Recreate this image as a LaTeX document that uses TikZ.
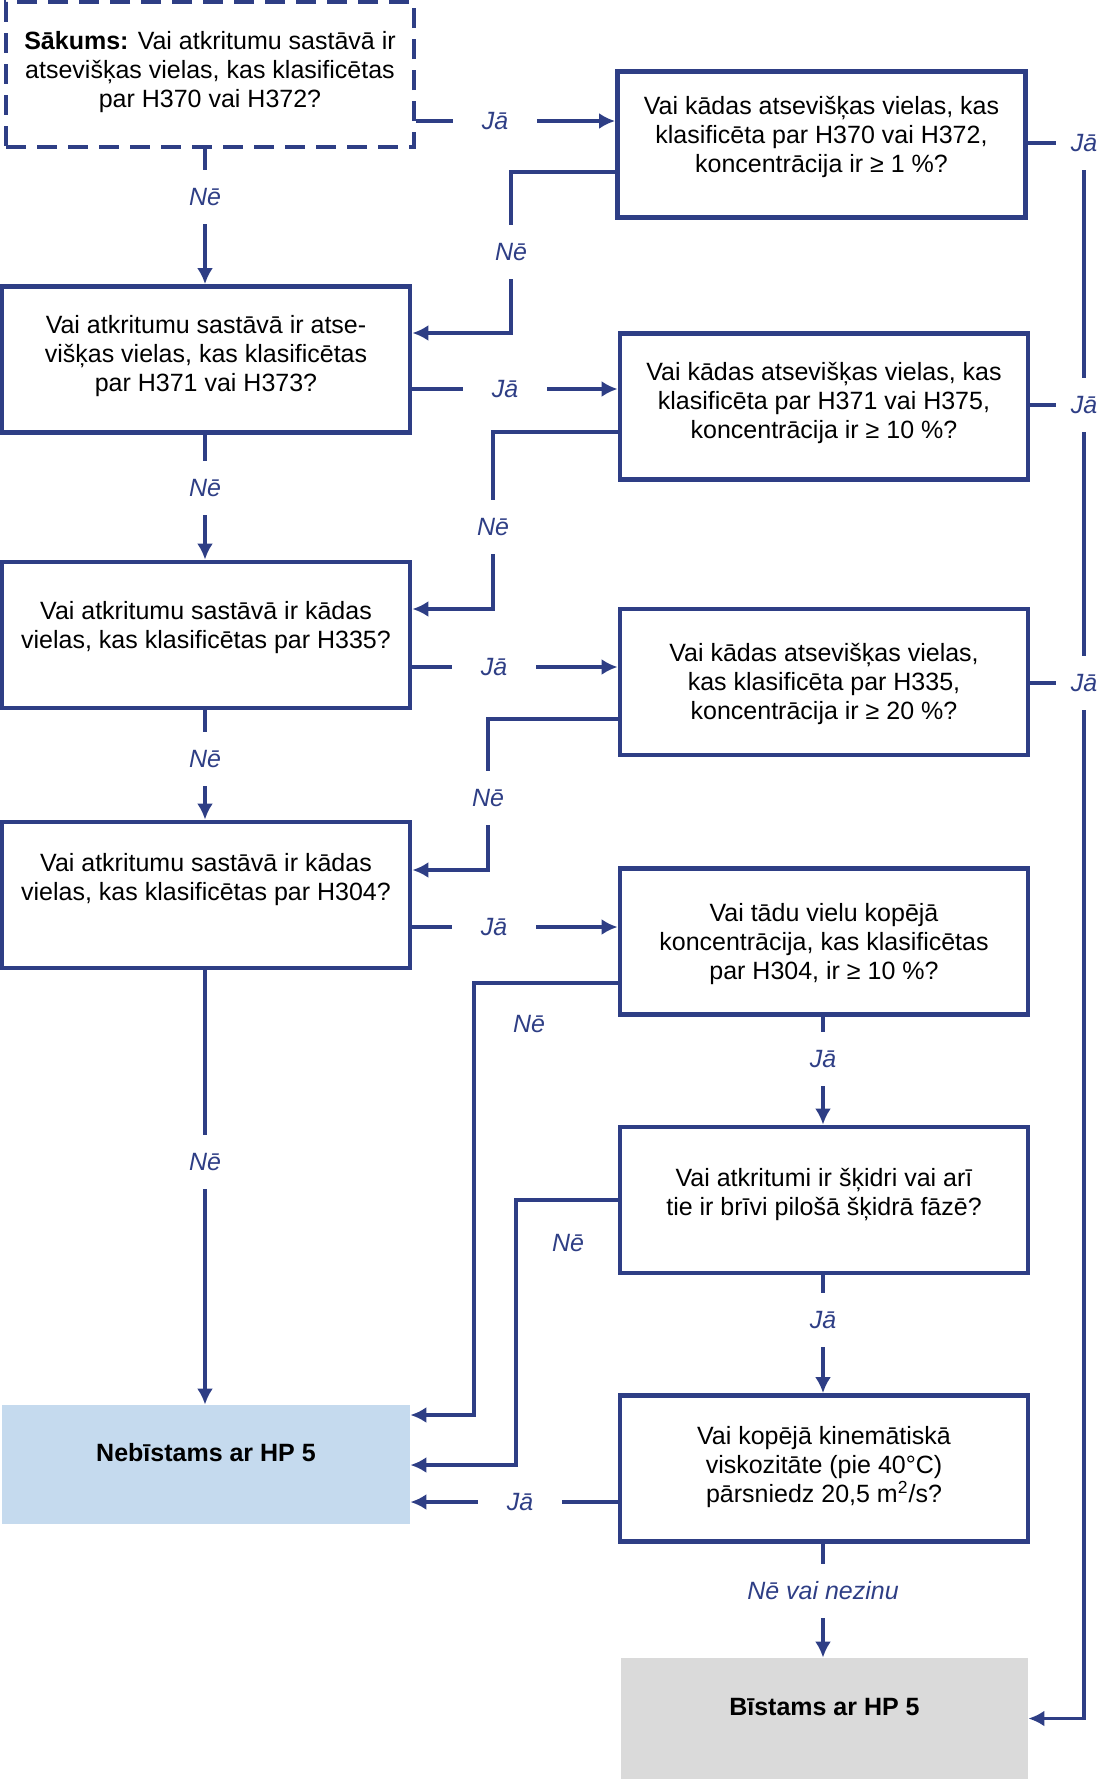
\documentclass[tikz,border=0pt]{standalone}
\usepackage{fontspec}
\setmainfont{Liberation Sans}
\usepackage{xcolor}
\usepackage{tikz}
\usetikzlibrary{arrows.meta,positioning}
\definecolor{zils}{RGB}{46,62,133}
\definecolor{gaiszils}{RGB}{197,218,238}
\definecolor{pelek}{RGB}{218,218,218}
\newcommand{\rindas}[2]{\raisebox{#1}[\height][\depth]{\begin{tabular}{@{}c@{}}#2\end{tabular}}}

\begin{document}
\begin{tikzpicture}[x=0.5pt, y=-0.5pt, font=\fontsize{12.5}{14.5}\selectfont,
    kaste/.style={draw=zils, line width=2.4pt, minimum width=204pt, minimum height=73pt, inner sep=0pt},
    rezult/.style={minimum width=204pt, minimum height=60pt, inner sep=0pt},
    uzr/.style={text=zils, font=\fontsize{12.5}{14.5}\selectfont\itshape, minimum width=42pt, minimum height=27pt, inner sep=0pt},
    uzrlab/.style={uzr, minimum width=28pt},
    lin/.style={draw=zils, line width=1.8pt},
    bult/.style={lin, -{Latex[length=8pt, width=8pt]}}]
  \useasboundingbox (0,0) rectangle (1099,1779);

  % kreisā kolonna
  \node[kaste, line width=2pt, dash pattern=on 10pt off 5.5pt, minimum height=72.5pt] (sak) at (210,74.5) {\rindas{0.75pt}{\textbf{Sākums:} Vai atkritumu sastāvā ir\\atsevišķas vielas, kas klasificētas\\par H370 vai H372?}};
  \node[kaste] (q2) at (206,359.5) {\rindas{1.25pt}{Vai atkritumu sastāvā ir atse-\\višķas vielas, kas klasificētas\\par H371 vai H373?}};
  \node[kaste] (q3) at (206,635) {\rindas{3.25pt}{Vai atkritumu sastāvā ir kādas\\vielas, kas klasificētas par H335?}};
  \node[kaste] (q4) at (206,895) {\rindas{7.25pt}{Vai atkritumu sastāvā ir kādas\\vielas, kas klasificētas par H304?}};
  \node[rezult, fill=gaiszils, minimum height=59.5pt] (neb) at (206,1464.5) {\rindas{4.25pt}{\textbf{Nebīstams ar HP 5}}};

  % labā kolonna
  \node[kaste] (p1) at (821.5,144.5) {\rindas{3.5pt}{Vai kādas atsevišķas vielas, kas\\klasificēta par H370 vai H372,\\koncentrācija ir ≥ 1 \%?}};
  \node[kaste] (p2) at (824,406.5) {\rindas{1.25pt}{Vai kādas atsevišķas vielas, kas\\klasificēta par H371 vai H375,\\koncentrācija ir ≥ 10 \%?}};
  \node[kaste] (p3) at (824,682) {\rindas{-1.5pt}{Vai kādas atsevišķas vielas,\\kas klasificēta par H335,\\koncentrācija ir ≥ 20 \%?}};
  \node[kaste] (p4) at (824,941.5) {\rindas{-1.5pt}{Vai tādu vielu kopējā\\koncentrācija, kas klasificētas\\par H304, ir ≥ 10 \%?}};
  \node[kaste] (p5) at (824,1200) {\rindas{2.25pt}{Vai atkritumi ir šķidri vai arī\\tie ir brīvi pilošā šķidrā fāzē?}};
  \node[kaste] (p6) at (824,1468.5) {\rindas{0.5pt}{Vai kopējā kinemātiskā\\viskozitāte (pie 40°C)\\pārsniedz 20,5 m\textsuperscript{2}/s?}};
  \node[rezult, fill=pelek, minimum width=203.5pt, minimum height=60.5pt] (bist) at (824.5,1718.5) {\rindas{4.25pt}{\textbf{Bīstams ar HP 5}}};

  % uzraksti
  \node[uzr] (neSak) at (205,197) {Nē};
  \node[uzr] (jaSak) at (495,121) {Jā};
  \node[uzr] (neP1) at (511,252) {Nē};
  \node[uzrlab] (jaP1) at (1084,143) {Jā};
  \node[uzr] (jaQ2) at (505,389) {Jā};
  \node[uzr] (neQ2) at (205,488) {Nē};
  \node[uzr] (neP2) at (493,527) {Nē};
  \node[uzrlab] (jaP2) at (1084,405) {Jā};
  \node[uzr] (jaQ3) at (494,667) {Jā};
  \node[uzr] (neQ3) at (205,759) {Nē};
  \node[uzr] (neP3) at (488,798) {Nē};
  \node[uzrlab] (jaP3) at (1084,683) {Jā};
  \node[uzr] (jaQ4) at (494,927) {Jā};
  \node[uzr] (neQ4) at (205,1162) {Nē};
  \node[uzr] (neP4) at (529,1024) {Nē};
  \node[uzr] (jaP4) at (823,1059) {Jā};
  \node[uzr] (neP5) at (568,1243) {Nē};
  \node[uzr] (jaP5) at (823,1320) {Jā};
  \node[uzr] (jaP6) at (520,1502) {Jā};
  \node[uzr] (neP6) at (823,1591) {Nē vai nezinu};
  \coordinate (k4) at (474,1415);
  \coordinate (k5) at (516,1465);

  % Nē uz leju
  \draw[lin] (sak.south -| neSak) -- (neSak);
  \draw[bult] (neSak) -- (q2.north -| neSak);
  \draw[lin] (q2.south -| neQ2) -- (neQ2);
  \draw[bult] (neQ2) -- (q3.north -| neQ2);
  \draw[lin] (q3.south -| neQ3) -- (neQ3);
  \draw[bult] (neQ3) -- (q4.north -| neQ3);
  \draw[lin] (q4.south -| neQ4) -- (neQ4);
  \draw[bult] (neQ4) -- (neb.north -| neQ4);

  % Jā pa labi
  \draw[lin] (sak.east |- jaSak) -- (jaSak);
  \draw[bult] (jaSak) -- (p1.west |- jaSak);
  \draw[lin] (q2.east |- jaQ2) -- (jaQ2);
  \draw[bult] (jaQ2) -- (p2.west |- jaQ2);
  \draw[lin] (q3.east |- jaQ3) -- (jaQ3);
  \draw[bult] (jaQ3) -- (p3.west |- jaQ3);
  \draw[lin] (q4.east |- jaQ4) -- (jaQ4);
  \draw[bult] (jaQ4) -- (p4.west |- jaQ4);

  % Nē atpakaļ uz kreiso kolonnu
  \draw[lin] ([yshift=-13.75pt]p1.west) -| (neP1);
  \draw[bult] (neP1) |- ([yshift=13.25pt]q2.east);
  \draw[lin] ([yshift=-12.75pt]p2.west) -| (neP2);
  \draw[bult] (neP2) |- ([yshift=13pt]q3.east);
  \draw[lin] ([yshift=-18.5pt]p3.west) -| (neP3);
  \draw[bult] (neP3) |- ([yshift=12.5pt]q4.east);
  \draw[bult] ([yshift=-20.75pt]p4.west) -| (k4) -- (neb.east |- k4);
  \draw[bult] (p5.west) -| (k5) -- (neb.east |- k5);
  \draw[lin] (p6.west |- jaP6) -- (jaP6);
  \draw[bult] (jaP6) -- (neb.east |- jaP6);

  % lejup labajā kolonnā
  \draw[lin] (p4.south -| jaP4) -- (jaP4);
  \draw[bult] (jaP4) -- (p5.north -| jaP4);
  \draw[lin] (p5.south -| jaP5) -- (jaP5);
  \draw[bult] (jaP5) -- (p6.north -| jaP5);
  \draw[lin] (p6.south -| neP6) -- (neP6);
  \draw[bult] (neP6) -- (bist.north -| neP6);

  % Jā uz Bīstams
  \draw[lin] (p1.east |- jaP1) -- (jaP1);
  \draw[lin] (p2.east |- jaP2) -- (jaP2);
  \draw[lin] (p3.east |- jaP3) -- (jaP3);
  \draw[lin] (jaP1) -- (jaP2);
  \draw[lin] (jaP2) -- (jaP3);
  \draw[bult] (jaP3) |- (bist.east);
\end{tikzpicture}
\end{document}
